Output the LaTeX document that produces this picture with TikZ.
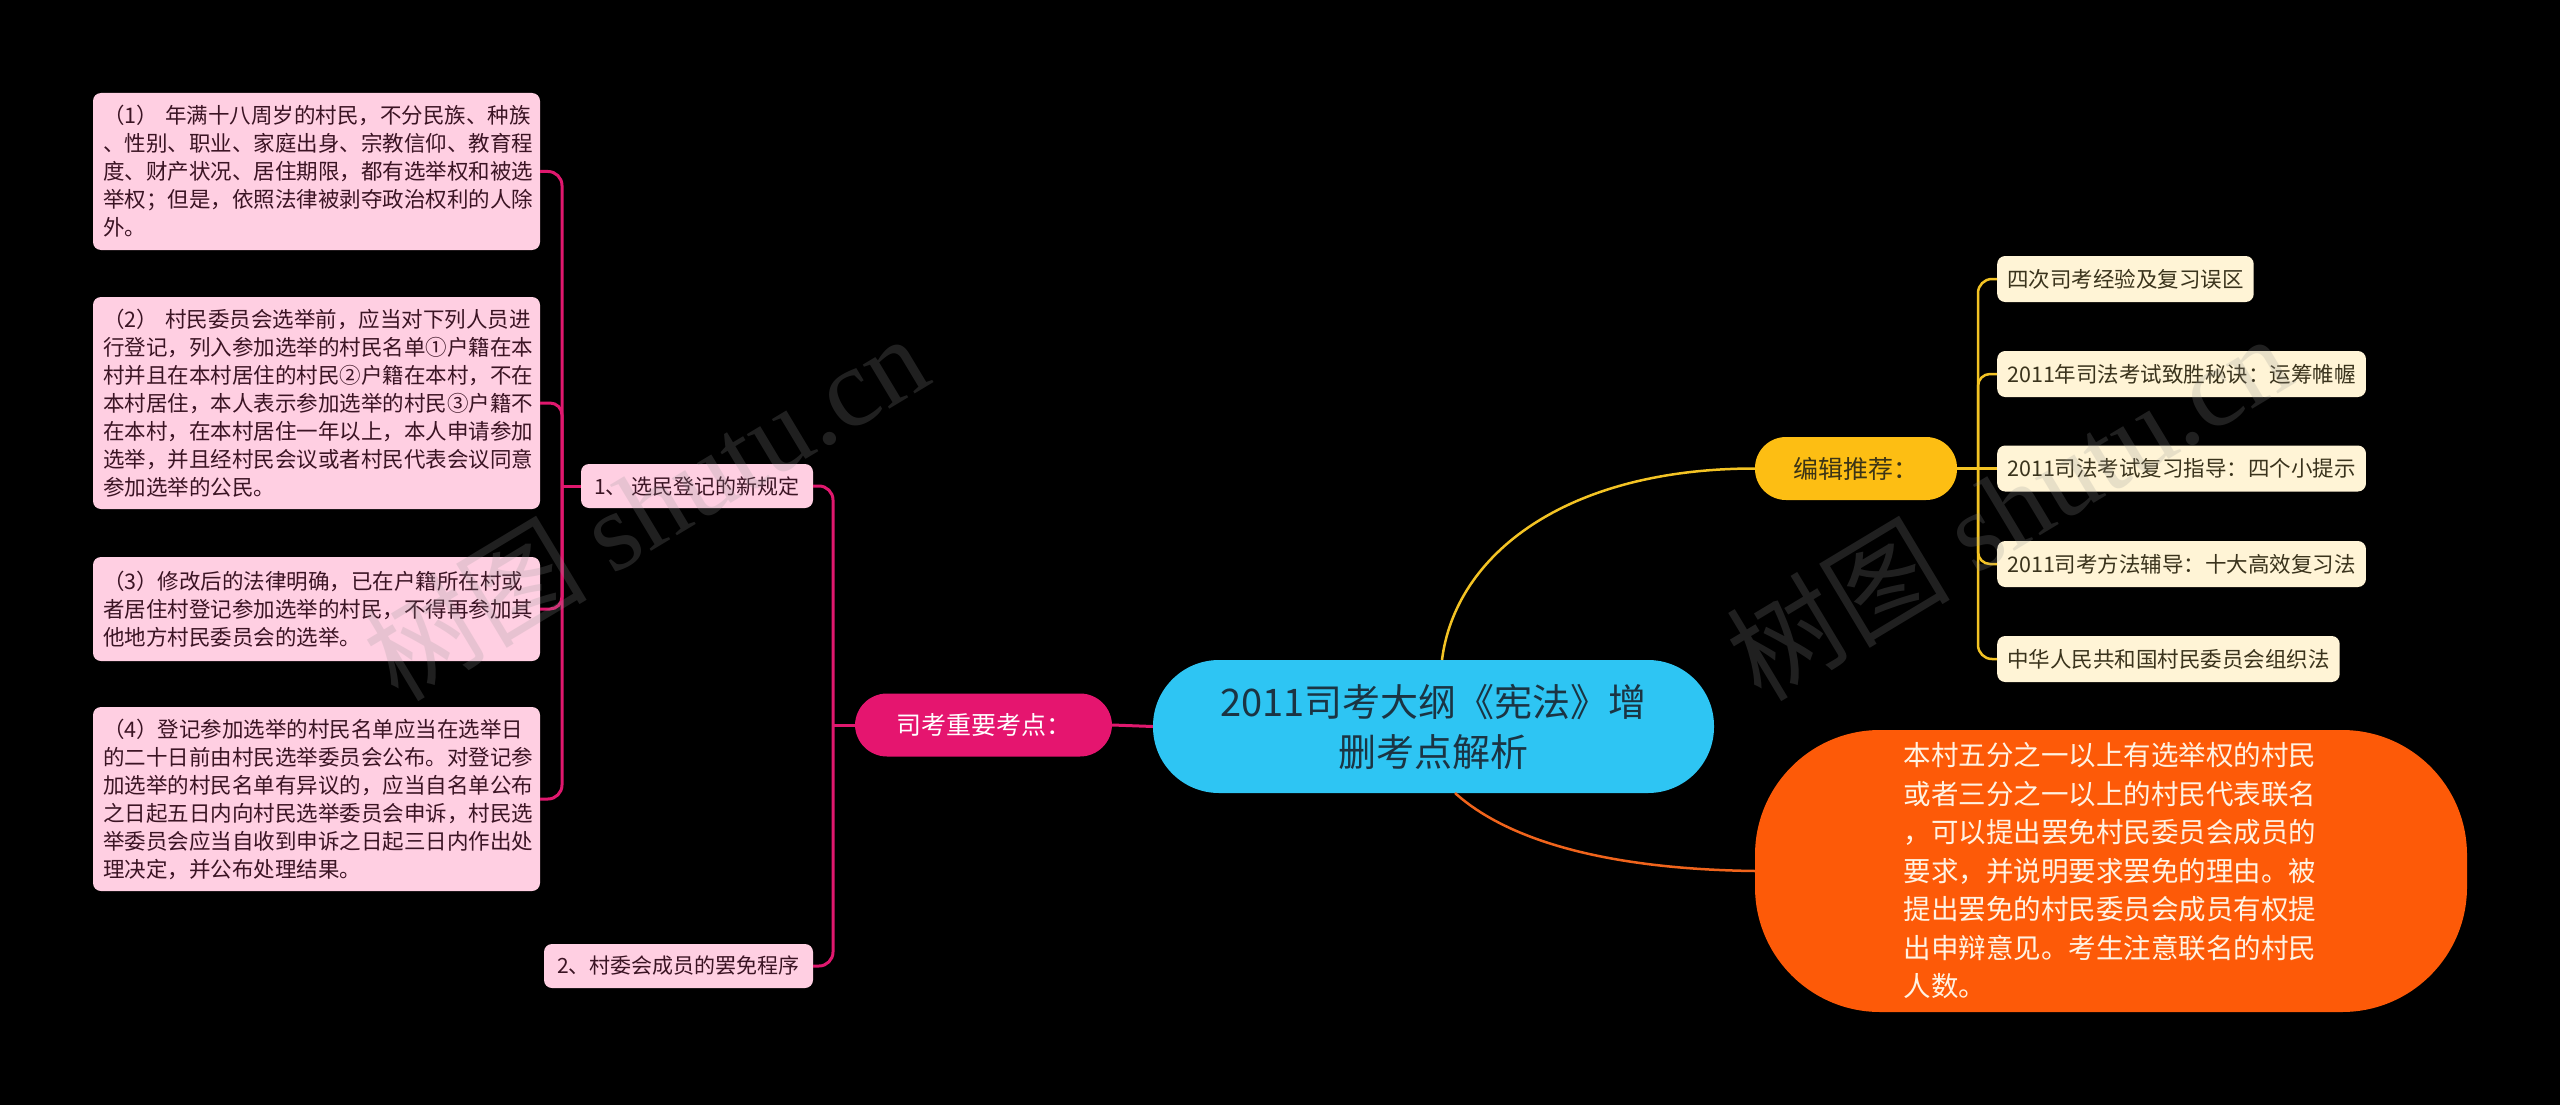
\documentclass[tikz,border=0pt]{standalone}
\usepackage{fontspec}
\setmainfont{Noto Sans CJK SC}
\newfontfamily\wmserif{Liberation Serif}
\definecolor{cyanC}{HTML}{2EC5F3}
\definecolor{cyanT}{HTML}{1B3443}
\definecolor{magC}{HTML}{E5156F}
\definecolor{magL}{HTML}{E0186E}
\definecolor{pinkF}{HTML}{FFCFE2}
\definecolor{pinkT}{HTML}{3B1424}
\definecolor{yelC}{HTML}{FDBE13}
\definecolor{yelL}{HTML}{F3C324}
\definecolor{yelT}{HTML}{3C3416}
\definecolor{creamF}{HTML}{FFF4D6}
\definecolor{creamT}{HTML}{3A331C}
\definecolor{oraC}{HTML}{FD5A08}
\definecolor{oraL}{HTML}{F0641C}
\definecolor{oraT}{HTML}{FFF3E3}
\definecolor{wmC}{HTML}{969696}
\tikzset{
  leafbox/.style={fill=pinkF, text=pinkT, rounded corners=8pt, text width=427pt,
    inner xsep=10pt, inner ysep=0pt, align=left, font=\fontsize{21.5}{28}\selectfont},
  subbox/.style={fill=pinkF, text=pinkT, rounded corners=8pt, inner xsep=10pt,
    inner ysep=0pt, minimum height=44pt, font=\fontsize{21}{26}\selectfont},
  itembox/.style={fill=creamF, text=creamT, rounded corners=8pt, inner xsep=10pt,
    inner ysep=0pt, minimum height=46pt, anchor=west, font=\fontsize{21.5}{26}\selectfont},
  magline/.style={draw=magL, line width=3pt},
  yelline/.style={draw=yelL, line width=2.5pt},
  oraline/.style={draw=oraL, line width=2.5pt},
  wm/.style={text=wmC, opacity=0.22, font=\fontsize{112}{112}\selectfont, inner sep=0pt}
}
\begin{document}
\begin{tikzpicture}[x=1pt,y=-1pt]
\fill[black] (0,0) rectangle (2560,1105);
\useasboundingbox (0,0) rectangle (2560,1105);

% central
\node[fill=cyanC, text=cyanT, rounded corners=66pt, minimum width=561pt, minimum height=133pt,
  align=center, inner sep=0pt, font=\fontsize{38}{50}\selectfont] (central) at (1433.5,726.5)
  {2011司考大纲《宪法》增\\删考点解析};

% left main branch
\node[fill=magC, text=white, rounded corners=32pt, minimum width=257pt, minimum height=63pt,
  inner sep=0pt, font=\fontsize{25}{30}\selectfont] (sikao) at (983.5,725) {司考重要考点：};

\node[subbox, minimum width=232pt] (s1) at (697,486) {1、 选民登记的新规定};
\node[subbox, minimum width=269pt] (s2) at (678.5,966) {2、村委会成员的罢免程序};

\node[leafbox, minimum height=157pt] (b1) at (316.5,171.5)
 {（1） 年满十八周岁的村民，不分民族、种族\\、性别、职业、家庭出身、宗教信仰、教育程\\度、财产状况、居住期限，都有选举权和被选\\举权；但是，依照法律被剥夺政治权利的人除\\外。};
\node[leafbox, minimum height=212pt] (b2) at (316.5,403)
 {（2） 村民委员会选举前，应当对下列人员进\\行登记，列入参加选举的村民名单①户籍在本\\村并且在本村居住的村民②户籍在本村，不在\\本村居住，本人表示参加选举的村民③户籍不\\在本村，在本村居住一年以上，本人申请参加\\选举，并且经村民会议或者村民代表会议同意\\参加选举的公民。};
\node[leafbox, minimum height=104pt] (b3) at (316.5,609)
 {（3）修改后的法律明确，已在户籍所在村或\\者居住村登记参加选举的村民，不得再参加其\\他地方村民委员会的选举。};
\node[leafbox, minimum height=184pt] (b4) at (316.5,799)
 {（4）登记参加选举的村民名单应当在选举日\\的二十日前由村民选举委员会公布。对登记参\\加选举的村民名单有异议的，应当自名单公布\\之日起五日内向村民选举委员会申诉，村民选\\举委员会应当自收到申诉之日起三日内作出处\\理决定，并公布处理结果。};

% right branches
\node[fill=yelC, text=yelT, rounded corners=31pt, minimum width=202pt, minimum height=63pt,
  inner sep=0pt, font=\fontsize{25}{30}\selectfont] (bianji) at (1856,468.5) {编辑推荐：};

\node[itembox] (i1) at (1997,279) {四次司考经验及复习误区};
\node[itembox] (i2) at (1997,374) {2011年司法考试致胜秘诀：运筹帷幄};
\node[itembox] (i3) at (1997,468.5) {2011司法考试复习指导：四个小提示};
\node[itembox] (i4) at (1997,564) {2011司考方法辅导：十大高效复习法};
\node[itembox] (i5) at (1997,659) {中华人民共和国村民委员会组织法};

\node[fill=oraC, text=oraT, rounded corners=125pt, minimum width=712pt, minimum height=282pt,
  text width=415pt, align=left, inner sep=0pt, font=\fontsize{27.5}{38.5}\selectfont] (orange) at (2111,871)
 {本村五分之一以上有选举权的村民\\或者三分之一以上的村民代表联名\\，可以提出罢免村民委员会成员的\\要求，并说明要求罢免的理由。被\\提出罢免的村民委员会成员有权提\\出申辩意见。考生注意联名的村民\\人数。};

% connectors
\coordinate (jR) at (833,725);
\coordinate (jL) at (562,486);
\coordinate (jY) at (1978,468.5);
\coordinate (cN) at (1442,660);
\coordinate (cS) at (1455,793);
\draw[magline] (central.west) -- (sikao.east);
\draw[magline] (sikao.west) -- (jR);
\draw[magline, rounded corners=14pt] (s1.east) -| (jR) |- (s2.east);
\draw[magline] (s1.west) -- (jL);
\draw[magline, rounded corners=14pt] (b1.east) -| (jL) |- (b4.east);
\draw[magline, rounded corners=12pt] (b2.east) -| (jL);
\draw[magline, rounded corners=12pt] (b3.east) -| (jL);

\draw[yelline] (cN) .. controls (1455,555) and (1565,468.5) .. (bianji.west);
\draw[oraline] (cS) .. controls (1505,838) and (1600,869) .. (orange.west);

\draw[yelline] (bianji.east) -- (i3.west);
\draw[yelline, rounded corners=14pt] (i1.west) -| (jY) |- (i5.west);
\draw[yelline, rounded corners=12pt] (i2.west) -| (jY);
\draw[yelline, rounded corners=12pt] (i4.west) -| (jY);

% watermarks
\node[wm, rotate=31] (wm1) at (645,506) {树图 {\wmserif shutu.cn}};
\node[wm, rotate=31] (wm2) at (2008,506) {树图 {\wmserif shutu.cn}};
\end{tikzpicture}
\end{document}
